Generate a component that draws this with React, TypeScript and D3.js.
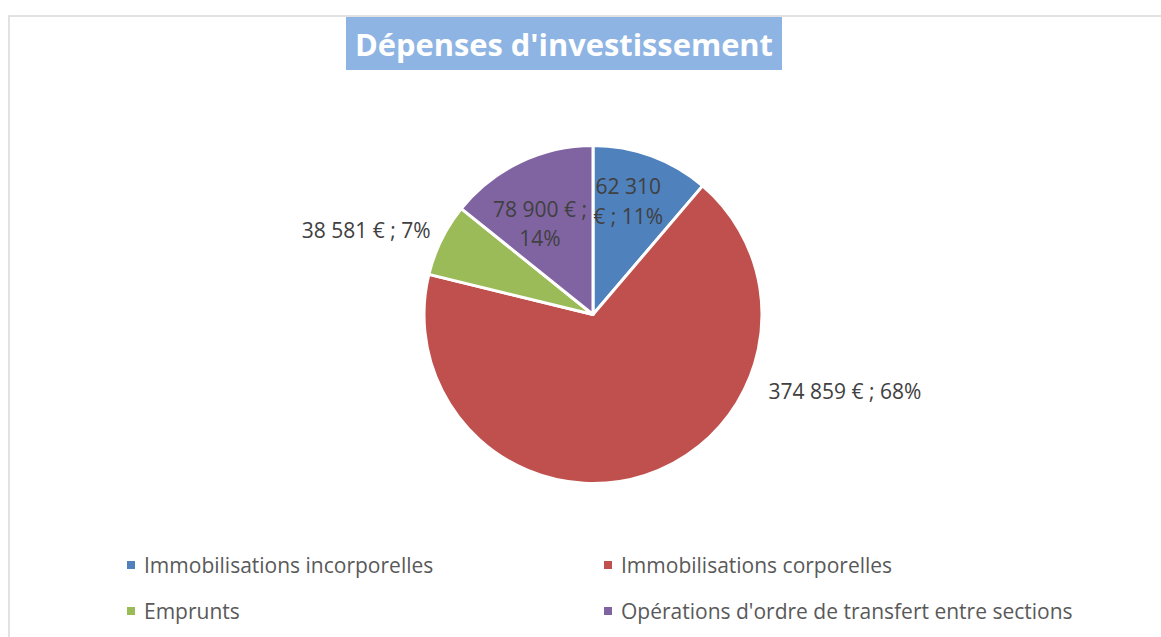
import React from "react";
import * as d3 from "d3";

const categories = [
  "Immobilisations incorporelles",
  "Immobilisations corporelles",
  "Emprunts",
  "Opérations d'ordre de transfert entre sections",
];
const values = [62310, 374859, 38581, 78900];
const colors = ["#4f81bd", "#c0504d", "#9bbb59", "#8064a2"];
// label lines as shown in the chart (wrapping per slice)
const labelLines = [
  ["62 310", "€ ; 11%"],
  ["374 859 € ; 68%"],
  ["38 581 € ; 7%"],
  ["78 900 € ;", "14%"],
];
// label offsets from each slice's centroid
const labelOffsets = [
  [6, -34],
  [226, -4],
  [-151, -47],
  [-16.5, -15],
];
const title = "Dépenses d'investissement";

const W = 1161;
const H = 637;
const cx = 593;
const cy = 314.5;
const R = 169;
const FONT = "'Open Sans', sans-serif";

export default function App() {
  const pie = d3.pie<number>().sort(null).value((d) => d)(values);
  const arc = d3.arc<d3.PieArcDatum<number>>().innerRadius(0).outerRadius(R);
  const color = d3.scaleOrdinal<number, string>().domain([0, 1, 2, 3]).range(colors);

  const labelPos = pie.map((p, i) => {
    const [x, y] = arc.centroid(p);
    return [cx + x + labelOffsets[i][0], cy + y + labelOffsets[i][1]];
  });

  const legendCols = [127, 604];
  const legendRows = [565, 611];

  return (
    <svg
      width={W}
      height={H}
      style={{ position: "absolute", left: 0, top: 0, background: "#fff" }}
    >
      <rect x={0} y={0} width={W} height={H} fill="#fff" />
      <rect x={9} y={16} width={W + 20} height={H + 20} fill="#fff" stroke="#d9d9d9" strokeWidth={1.5} />
      <rect x={346} y={17} width={436} height={53} fill="#8eb4e3" />
      <text
        x={564}
        y={44}
        textAnchor="middle"
        dominantBaseline="central"
        fill="#fff"
        fontFamily={FONT}
        fontWeight={700}
        fontSize={30}
        textLength={418}
        lengthAdjust="spacingAndGlyphs"
      >
        {title}
      </text>
      <g transform={`translate(${cx},${cy})`}>
        {pie.map((p, i) => (
          <path key={i} d={arc(p) || ""} fill={color(i)} stroke="#fff" strokeWidth={3} strokeLinejoin="round" />
        ))}
      </g>
      {labelLines.map((lines, i) => {
        const [lx, ly] = labelPos[i];
        const lh = 29.5;
        const y0 = ly - ((lines.length - 1) * lh) / 2;
        return (
          <text
            key={i}
            textAnchor="middle"
            fontFamily={FONT}
            fontSize={21}
            fill="#404040"
          >
            {lines.map((t, j) => (
              <tspan key={j} x={lx} y={y0 + j * lh} dominantBaseline="central">
                {t}
              </tspan>
            ))}
          </text>
        );
      })}
      {categories.map((c, i) => {
        const x = legendCols[i % 2];
        const y = legendRows[Math.floor(i / 2)];
        return (
          <g key={c}>
            <rect x={x} y={y - 4} width={8} height={8} fill={color(i)} />
            <text
              x={x + 17}
              y={y}
              dominantBaseline="central"
              fontFamily={FONT}
              fontSize={21}
              fill="#595959"
            >
              {c}
            </text>
          </g>
        );
      })}
    </svg>
  );
}
